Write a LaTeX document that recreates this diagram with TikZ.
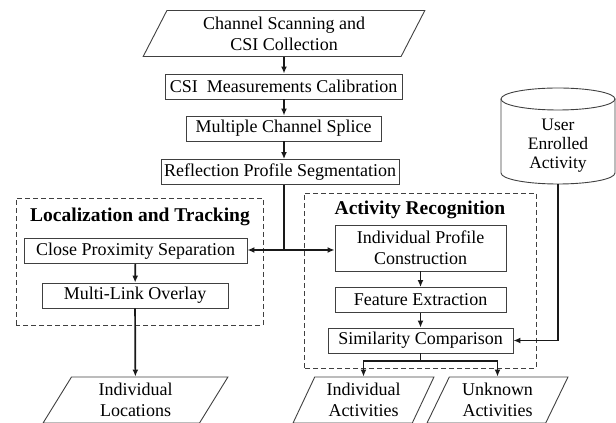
\documentclass[tikz,border=0pt]{standalone}
\usepackage{fontspec}
\setmainfont{Liberation Serif}
\usetikzlibrary{shapes.geometric,arrows.meta}

\tikzset{
  txt/.style={font=\fontsize{18}{21}\selectfont, align=center, inner sep=0pt},
  proc/.style={txt, rectangle, draw=black!75, line width=0.9pt, minimum height=25pt},
  io/.style={txt, trapezium, trapezium left angle=64, trapezium right angle=116,
    trapezium stretches=true, draw=black!75, line width=0.9pt, minimum height=46pt},
  group/.style={draw=black!75, line width=0.9pt, dash pattern=on 5pt off 3pt},
  grouptitle/.style={font=\fontsize{19.5}{22}\selectfont\bfseries, inner sep=0pt},
  link/.style={line width=1.7pt, draw=black!90},
  flow/.style={link, -{Latex[length=7pt,width=6pt]}},
}

\begin{document}
\begin{tikzpicture}[x=1pt,y=1pt]
				\useasboundingbox (0,0) rectangle (616,423);
				% the two dashed groups
				\draw[group] (16,98) rectangle (263,225);
				\draw[group] (304,55) rectangle (536,230);
				\node[grouptitle] (loctitle) at (140,206) {Localization and Tracking};
				\node[grouptitle] (acttitle) at (420,213) {Activity Recognition};
				% main chain
				\node[io, minimum width=282pt] (scan) at (284,389.5) {Channel Scanning and\\CSI Collection};
				\node[proc, minimum width=237pt] (calib) at (283.5,336.5) {CSI\ \ Measurements Calibration};
				\node[proc, minimum width=195pt] (splice) at (283.5,294.5) {Multiple Channel Splice};
				\node[proc, minimum width=238pt] (segment) at (280,251) {Reflection Profile Segmentation};
				\coordinate (split) at (284,173);
				% localization
				\node[proc, minimum width=223pt] (separate) at (135.5,172) {Close Proximity Separation};
				\node[proc, minimum width=186pt] (overlay) at (135,127.5) {Multi-Link Overlay};
				\node[io, minimum width=185pt] (locations) at (135.5,23) {Individual\\Locations};
				% recognition
				\node[proc, minimum width=171pt, minimum height=46pt] (profile) at (420.5,175) {Individual Profile\\Construction};
				\node[proc, minimum width=171pt] (feature) at (420.5,123) {Feature Extraction};
				\node[proc, minimum width=185pt] (similar) at (420.5,82.5) {Similarity Comparison};
				\coordinate (branch) at (420.5,62);
				\node[io, minimum width=141pt] (activities) at (363.5,23) {Individual\\Activities};
				\node[io, minimum width=141pt] (unknown) at (497.5,23) {Unknown\\Activities};
				% enrolled activity store
				\node[txt, font=\fontsize{17.5}{19}\selectfont] (enrolled) at (558,277) {User\\Enrolled\\Activity};
				\draw[draw=black!75, line width=0.9pt] (558,324) ellipse[x radius=57, y radius=11];
				\draw[draw=black!75, line width=0.9pt] (501,324) -- (501,250)
				  arc[start angle=180, end angle=360, x radius=57, y radius=11] -- (615,324);
				\coordinate (store) at (558,239);
				% connectors
				\draw[flow] (scan.south -| split) -- (calib.north -| split);
				\draw[flow] (calib.south -| split) -- (splice.north -| split);
				\draw[flow] (splice.south -| split) -- (segment.north -| split);
				\draw[link] (segment.south -| split) -- (split);
				\draw[flow] (split) -- (split -| separate.east);
				\draw[flow] (split) -- (split -| profile.west);
				\draw[flow] (separate) -- (overlay);
				\draw[flow] (overlay) -- (locations);
				\draw[flow] (profile) -- (feature);
				\draw[flow] (feature) -- (similar);
				\draw[link] (similar.south) -- (branch);
				\draw[flow] (branch) -| (activities.north);
				\draw[flow] (branch) -| (unknown.north);
				\draw[flow] (store) |- (similar.east);
			\end{tikzpicture}
\end{document}
